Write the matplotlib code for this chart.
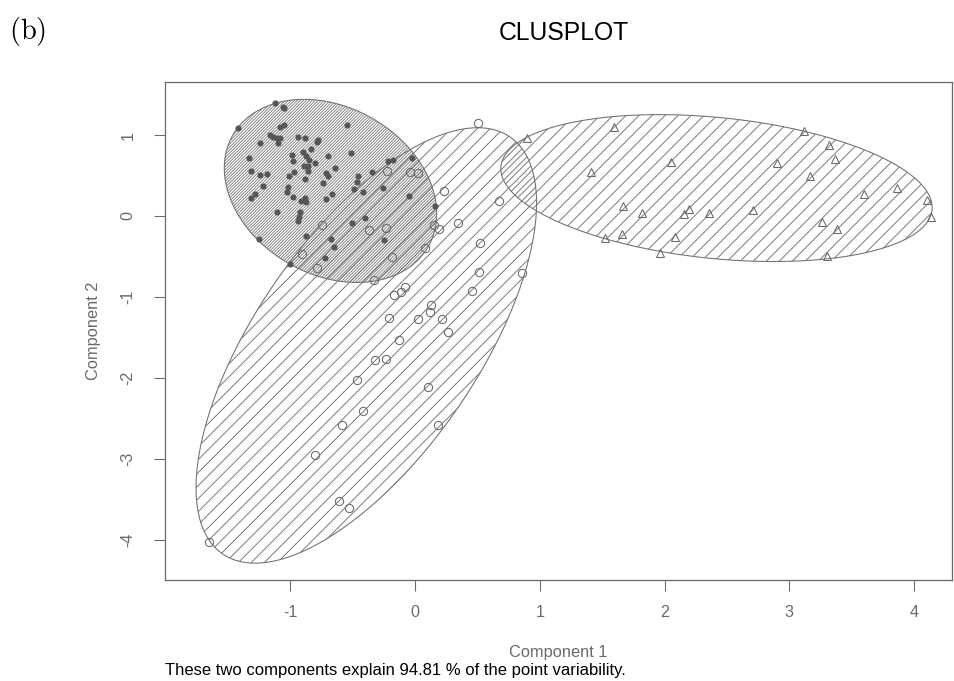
import numpy as np
import matplotlib
matplotlib.use("Agg")
import matplotlib.pyplot as plt
from matplotlib.patches import Polygon
from matplotlib.collections import LineCollection

# --- data (component scores) ---
dense_x = [-1.120, -1.054, -1.046, -1.418, -1.080, -1.046, -0.542, -1.160, -1.134, -1.106,
           -1.080, -1.094, -1.240, -0.934, -0.880, -0.774, -0.782, -1.326, -0.986, -0.974,
           -0.898, -0.870, -0.848, -0.834, -0.800, -1.312, -1.240, -1.186, -1.008, -0.972,
           -0.890, -0.856, -0.856, -1.218, -1.016, -1.026, -0.884, -1.280, -1.312, -0.694,
           -0.512, -0.712, -0.694, -0.640, -0.738, -0.454, -0.466, -0.488, -0.666, -0.714,
           -0.978, -0.912, -0.880, -0.872, -1.106, -0.920, -0.926, -0.934, -0.502, -0.400,
           -0.874, -0.672, -0.652, -0.720, -1.246, -1.000, -0.246, -0.214, -0.178, -0.022,
           -0.346, -0.414, -0.258, -0.046, 0.160]
dense_y = [1.391, 1.349, 1.330, 1.083, 1.095, 1.123, 1.123, 1.000, 0.979, 0.959,
           0.967, 0.898, 0.905, 0.979, 0.967, 0.938, 0.910, 0.712, 0.753, 0.683,
           0.786, 0.747, 0.691, 0.833, 0.654, 0.556, 0.506, 0.519, 0.494, 0.549,
           0.617, 0.614, 0.552, 0.374, 0.362, 0.300, 0.454, 0.272, 0.226, 0.741,
           0.774, 0.535, 0.494, 0.596, 0.411, 0.500, 0.414, 0.330, 0.272, 0.206,
           0.238, 0.185, 0.219, 0.177, 0.053, 0.046, -0.009, -0.058, -0.090, -0.028,
           -0.253, -0.284, -0.383, -0.515, -0.288, -0.593, -0.296, 0.683, 0.691, 0.720,
           0.540, 0.293, 0.349, 0.253, 0.123]

circ_x = [0.506, -0.224, -0.040, 0.026, 0.232, 0.674, 0.342, 0.152, 0.196, -0.366,
          -0.230, 0.520, 0.080, -0.184, 0.514, 0.858, -0.330, -0.076, -0.116, -0.166,
          0.456, 0.128, 0.120, -0.208, 0.022, 0.214, 0.262, -0.128, -0.318, -0.234,
          -0.462, 0.106, -0.418, -0.582, 0.186, -0.800, -0.606, -0.528, -1.648, -0.746,
          -0.906, -0.784]
circ_y = [1.144, 0.556, 0.547, 0.527, 0.309, 0.181, -0.090, -0.115, -0.160, -0.173,
          -0.152, -0.337, -0.395, -0.510, -0.695, -0.706, -0.790, -0.877, -0.944, -0.975,
          -0.923, -1.099, -1.181, -1.256, -1.275, -1.275, -1.436, -1.531, -1.778, -1.769,
          -2.025, -2.115, -2.416, -2.589, -2.589, -2.951, -3.519, -3.609, -4.028, -0.111,
          -0.475, -0.646]

tri_x = [0.894, 1.594, 1.414, 2.048, 1.666, 1.822, 2.192, 2.154, 2.352, 1.520,
         1.658, 2.086, 1.966, 3.120, 3.320, 3.368, 2.902, 3.166, 3.594, 3.862,
         4.106, 4.138, 2.706, 3.258, 3.378, 3.298]
tri_y = [0.959, 1.102, 0.547, 0.670, 0.127, 0.041, 0.090, 0.028, 0.033, -0.268,
         -0.222, -0.263, -0.460, 1.053, 0.877, 0.704, 0.651, 0.494, 0.268, 0.342,
         0.198, -0.009, 0.074, -0.070, -0.160, -0.490]

# cluster ellipses: centre and shape matrix
ell_centers = [(-0.677, 0.31), (-0.39, -1.60), (2.416, 0.345)]
ell_shapes = [[[0.724, -0.24], [-0.24, 1.28]],
              [[1.861, 2.40], [2.40, 7.24]],
              [[2.986, -0.415], [-0.415, 0.824]]]
# shading line spacing (pixels along x) and line width
ell_spacing = [3.0, 13.0, 13.0]
ell_lw = [0.75, 0.85, 0.85]

xticks = [-1, 0, 1, 2, 3, 4]
yticks = [1, 0, -1, -2, -3, -4]
explained = 94.81

DPI = 76
plt.rcParams['font.family'] = ['Liberation Sans', 'DejaVu Sans']
plt.rcParams['axes.unicode_minus'] = False
plt.rcParams['mathtext.fontset'] = 'cm'

grey = '#6a6a6a'
lgrey = '#707070'
fig = plt.figure(figsize=(954 / DPI, 681 / DPI), dpi=DPI)
ax = fig.add_axes([165 / 954, 1 - 580 / 681, (952 - 165) / 954, (580 - 82) / 681])
ax.set_xlim(-2.003, 4.303)
ax.set_ylim(-4.499, 1.656)

t = np.linspace(0, 2 * np.pi, 400)
inv = ax.transData.inverted()
for c, m, sp, lw in zip(ell_centers, ell_shapes, ell_spacing, ell_lw):
    L = np.linalg.cholesky(np.array(m))
    pts = (L @ np.vstack([np.cos(t), np.sin(t)])).T + np.array(c)
    poly = Polygon(pts, closed=True, facecolor='none', edgecolor=lgrey, lw=1.0, zorder=2)
    ax.add_patch(poly)
    # 45 degree shading lines built in pixel space, clipped to the ellipse
    pix = ax.transData.transform(pts)
    x0, y0 = pix.min(axis=0) - 2
    x1, y1 = pix.max(axis=0) + 2
    h = y1 - y0
    segs = []
    for xs in np.arange(x0 - h, x1, sp):
        segs.append(inv.transform(np.array([[xs, y0], [xs + h, y1]])))
    lc = LineCollection(segs, colors=lgrey, linewidths=lw, zorder=1.5)
    ax.add_collection(lc)
    lc.set_clip_path(poly)

ax.plot(dense_x, dense_y, 'o', ms=4.8, color='#555555', mec='#555555', zorder=3)
ax.plot(circ_x, circ_y, 'o', ms=7.8, mfc='none', mec=grey, mew=1.0, zorder=3)
ax.plot(tri_x, tri_y, '^', ms=8.5, mfc='none', mec=grey, mew=1.0, zorder=3)

ax.set_xticks(xticks, labels=[str(v) for v in xticks])
ax.set_yticks(yticks, labels=[str(v) for v in yticks])
ax.tick_params(direction='out', length=10, width=1.0, color=grey,
               labelcolor=grey, labelsize=15.3)
ax.tick_params(axis='x', pad=14)
ax.tick_params(axis='y', pad=18)
for lab in ax.get_yticklabels():
    lab.set_rotation(90)
    lab.set_va('center')
for s in ax.spines.values():
    s.set_color(grey)
    s.set_linewidth(1.2)

ax.set_xlabel('Component 1', fontsize=15.5, color=grey, labelpad=23)
ax.set_ylabel('Component 2', fontsize=15.5, color=grey, labelpad=18)
fig.text(564 / 954, 1 - 33 / 681, 'CLUSPLOT', fontsize=23.5, ha='center', va='center')
fig.text(9 / 954, 1 - 32 / 681, r'$\mathrm{(b)}$', fontsize=27, ha='left', va='center')
fig.text(165 / 954, 1 - 671 / 681,
         'These two components explain %.2f %% of the point variability.' % explained,
         fontsize=15.8, ha='left', va='center')

fig.savefig('out.png', dpi=DPI)
